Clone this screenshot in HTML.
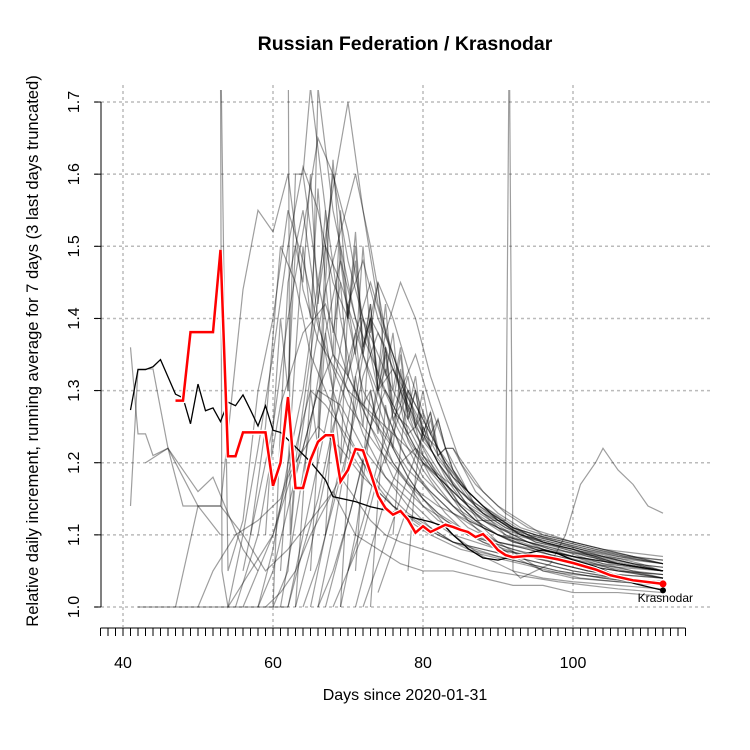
<!DOCTYPE html>
<html><head><meta charset="utf-8"><style>
body{margin:0;background:#fff}
svg{display:block;font-family:"Liberation Sans",sans-serif}
</style></head><body>
<svg id="chart" width="750" height="750" xmlns="http://www.w3.org/2000/svg">
<text x="405" y="50" text-anchor="middle" font-size="19.5" font-weight="bold">Russian Federation / Krasnodar</text>
<text x="405" y="700" text-anchor="middle" font-size="16">Days since 2020-01-31</text>
<text transform="translate(38,351) rotate(-90)" text-anchor="middle" font-size="16.6">Relative daily increment, running average for 7 days (3 last days truncated)</text>
<g id="grid"></g>
<g id="axes"></g>
<defs><clipPath id="pc"><rect x="101" y="90" width="620" height="520"/></clipPath></defs>
<g id="gray" clip-path="url(#pc)"></g>
<g id="main"></g>
</svg>
<script>
const xTicks=[40,60,80,100];
const yTicks=[1.0,1.1,1.2,1.3,1.4,1.5,1.6,1.7];
const redDays=[47,48,49,50,51,52,53,54,55,56,57,58,59,60,61,62,63,64,65,66,67,68,69,70,71,72,73,74,75,76,77,78,79,80,81,82,83,84,85,86,87,88,89,90,91,92,94,96,98,100,103,105,108,112];
const redVals=[1.286,1.286,1.381,1.381,1.381,1.381,1.495,1.209,1.209,1.242,1.242,1.242,1.242,1.168,1.2,1.291,1.165,1.165,1.204,1.229,1.238,1.238,1.174,1.19,1.219,1.217,1.186,1.154,1.137,1.128,1.133,1.121,1.103,1.112,1.104,1.109,1.114,1.111,1.107,1.104,1.097,1.101,1.091,1.079,1.072,1.069,1.071,1.070,1.066,1.061,1.052,1.044,1.037,1.032];
const blackDays=[41,42,43,44,45,46,47,48,49,50,51,52,53,54,55,56,57,58,59,60,61,63,65,67,68,71,73,76,79,81,83,84,85,86,88,90,92,95,96,98,100,103,105,108,112];
const blackVals=[1.273,1.329,1.329,1.333,1.343,1.319,1.295,1.29,1.254,1.309,1.272,1.276,1.257,1.284,1.279,1.294,1.273,1.251,1.279,1.245,1.242,1.222,1.201,1.176,1.153,1.146,1.139,1.132,1.123,1.118,1.111,1.1,1.091,1.081,1.068,1.065,1.07,1.077,1.079,1.074,1.065,1.056,1.047,1.033,1.023];
const grayDays=[
[41,42,43,44,46,48,50,53],
[41,42,44,46,48,50,52,54,56,58],
[42,45,48,52,55,58,60,62],
[47,50,53,56,58,60,62,64,66,70,75,80,85,90,95,100,105,112],
[53,54,56,58,60,62,64,66,68,70,74,78,82,86,90,95,100,106,112],
[54,56,58,60,62,64,66,68,70,72,75,78,82,86,90,95,100,106,112],
[56,58,60,62,64,66,68,70,72,74,77,80,84,88,92,96,100,106,112],
[58,60,62,64,66,68,70,72,74,76,78,80,84,88,92,96,100,106,112],
[60,62,63,65,67,69,71,73,75,77,79,82,85,88,92,96,100,106,112],
[61,63,65,67,69,71,73,75,77,79,81,84,87,90,94,98,102,107,112],
[62,64,66,68,70,72,74,76,78,80,82,85,88,91,95,99,103,108,112],
[63,65,67,69,71,73,75,77,79,81,83,86,89,92,96,100,104,108,112],
[64,66,68,70,72,74,76,78,80,82,84,87,90,93,97,101,105,109,112],
[65,67,69,71,73,75,77,79,81,83,85,88,91,94,98,102,106,112],
[66,68,70,72,74,76,78,80,82,84,86,89,92,95,99,103,107,112],
[67,69,71,73,75,77,79,81,83,85,87,90,93,96,100,104,108,112],
[68,70,72,74,76,78,80,82,84,86,88,91,94,97,100,104,108,112],
[70,72,74,76,78,80,82,84,86,88,90,93,96,99,102,106,112],
[72,74,76,78,80,82,84,86,88,90,92,95,98,101,104,108,112],
[74,76,78,80,82,84,86,88,90,92,94,97,100,104,108,112],
[57,59,61,63,65,67,70,73,76,80,84,88,92,96,100,106,112],
[55,58,61,64,67,70,73,76,79,82,86,90,94,98,102,107,112],
[62,63,64,66,68,70,72,75,78,81,84,88,92,96,100,106,112],
[66,67,68,70,72,74,77,80,83,86,89,92,96,100,106,112],
[60,61,62,64,66,68,70,73,76,79,82,86,90,94,98,104,112],
[69,71,73,75,77,79,81,83,85,87,90,93,96,100,104,108,112],
[58,60,63,66,69,72,75,78,81,84,87,90,94,98,102,107,112],
[64,65,67,69,71,73,76,79,82,85,88,91,94,98,102,106,112],
[53,53.2,54,57,60,63,66,69,72,75,78,81,85,89,93,97,101,106,112],
[71,73,75,77,79,81,83,85,87,89,91,91.5,92,93,95,97,99,101,103,104,106,108,110,112],
[59,61,63,65,67,69,71,73,75,77,80,83,86,89,92,95,98,102,106,112],
[65,66,68,70,72,74,76,78,80,83,86,89,92,95,98,102,106,112],
[75,77,79,81,83,85,87,89,91,93,96,99,102,106,112],
[43,46,50,53,56,59,62,65,68,71,74,77,80,84,88,92,96,100,106,112],
[50,52,55,58,61,63,65,67,69,72,75,78,81,84,87,90,94,98,104,112],
[62,62.3,63,65,67,69,72,75,78,81,84,87,90,94,98,103,108,112],
[59,60,61,62,63,64,65,66,67,68,69,70,71,72,73,74,76,78,80,83,86,90,95,100,106,112],
[61,62,63,64,65,66,67,68,69,70,71,72,73,74,75,76,78,80,83,86,90,95,100,106,112],
[63,64,65,66,67,68,69,70,71,72,73,74,75,76,77,78,80,82,85,88,92,96,100,106,112],
[65,66,67,68,69,70,71,72,73,74,75,76,77,78,79,80,82,84,87,90,94,98,104,112],
[67,68,69,70,71,72,73,74,75,76,77,78,79,80,81,82,84,86,89,92,96,100,106,112],
[69,70,71,72,73,74,75,76,77,78,79,80,81,82,83,85,87,90,93,97,101,106,112],
[71,72,73,74,75,76,77,78,79,80,81,82,83,84,86,88,91,94,98,102,107,112],
[73,74,75,76,77,78,79,80,81,82,83,84,85,87,89,92,95,99,103,108,112],
[76,77,78,79,80,81,82,83,84,86,88,90,93,96,100,104,108,112],
[78,79,80,81,82,83,84,85,87,89,91,94,97,100,104,108,112],
[56,58,60,62,64,66,68,70,72,74,76,78,80,84,88,92,96,100,106,112],
[62,64,66,68,70,72,74,76,78,80,82,84,86,88,92,96,100,106,112],
[66,68,70,72,74,76,78,80,82,84,86,88,90,93,96,100,106,112]
];
const grayVals=[
[1.36,1.24,1.24,1.21,1.22,1.14,1.14,1.10],
[1.14,1.33,1.33,1.22,1.19,1.16,1.18,1.13,1.08,1.05],
[1.0,1.0,1.0,1.0,1.0,1.0,1.0,1.0],
[1.0,1.14,1.14,1.44,1.55,1.52,1.60,1.44,1.37,1.30,1.25,1.20,1.16,1.12,1.09,1.08,1.06,1.05],
[1.80,1.05,1.12,1.30,1.40,1.55,1.48,1.39,1.33,1.28,1.22,1.17,1.14,1.12,1.10,1.08,1.07,1.06,1.05],
[1.0,1.10,1.22,1.35,1.50,1.61,1.55,1.45,1.40,1.30,1.24,1.19,1.15,1.11,1.09,1.08,1.06,1.05,1.04],
[1.05,1.15,1.25,1.40,1.52,1.65,1.60,1.48,1.40,1.32,1.25,1.20,1.15,1.12,1.10,1.08,1.07,1.05,1.045],
[1.0,1.08,1.20,1.30,1.45,1.58,1.70,1.55,1.42,1.35,1.28,1.23,1.18,1.14,1.11,1.09,1.08,1.06,1.05],
[1.0,1.05,1.18,1.32,1.44,1.52,1.60,1.50,1.38,1.30,1.24,1.19,1.14,1.11,1.09,1.08,1.07,1.06,1.05],
[1.0,1.12,1.25,1.38,1.48,1.40,1.35,1.30,1.26,1.22,1.18,1.14,1.12,1.10,1.09,1.08,1.07,1.06,1.05],
[1.0,1.10,1.20,1.30,1.42,1.48,1.40,1.35,1.29,1.24,1.20,1.16,1.13,1.11,1.09,1.08,1.07,1.06,1.055],
[1.0,1.08,1.18,1.30,1.38,1.45,1.38,1.32,1.28,1.24,1.20,1.16,1.13,1.11,1.09,1.08,1.07,1.06,1.05],
[1.0,1.06,1.14,1.22,1.32,1.38,1.33,1.29,1.25,1.21,1.18,1.15,1.12,1.10,1.09,1.08,1.07,1.06,1.05],
[1.0,1.10,1.20,1.32,1.40,1.36,1.30,1.25,1.22,1.18,1.15,1.13,1.11,1.10,1.09,1.08,1.07,1.06],
[1.0,1.05,1.12,1.20,1.30,1.33,1.28,1.24,1.20,1.17,1.15,1.13,1.11,1.10,1.09,1.08,1.07,1.065],
[1.0,1.08,1.16,1.25,1.30,1.26,1.22,1.19,1.17,1.15,1.13,1.11,1.10,1.09,1.08,1.07,1.065,1.06],
[1.0,1.05,1.12,1.20,1.27,1.25,1.21,1.18,1.16,1.14,1.12,1.10,1.09,1.08,1.075,1.07,1.06,1.055],
[1.05,1.10,1.18,1.24,1.30,1.26,1.22,1.18,1.15,1.13,1.12,1.10,1.09,1.08,1.07,1.06,1.05],
[1.0,1.06,1.12,1.18,1.24,1.22,1.19,1.16,1.14,1.12,1.11,1.10,1.09,1.08,1.07,1.06,1.05],
[1.02,1.08,1.14,1.20,1.18,1.16,1.14,1.12,1.11,1.10,1.09,1.08,1.07,1.06,1.05,1.04],
[1.10,1.25,1.50,1.45,1.35,1.30,1.22,1.17,1.14,1.11,1.09,1.08,1.07,1.06,1.05,1.04,1.035],
[1.0,1.10,1.28,1.38,1.42,1.32,1.25,1.18,1.15,1.12,1.10,1.09,1.08,1.07,1.06,1.05,1.04],
[1.30,1.60,1.60,1.45,1.35,1.30,1.24,1.18,1.14,1.11,1.09,1.08,1.07,1.06,1.05,1.04,1.03],
[1.25,1.50,1.60,1.52,1.40,1.30,1.22,1.17,1.13,1.10,1.09,1.08,1.07,1.06,1.05,1.04],
[1.0,1.25,1.45,1.55,1.40,1.30,1.24,1.18,1.14,1.12,1.10,1.08,1.07,1.06,1.05,1.04,1.03],
[1.0,1.10,1.25,1.38,1.45,1.40,1.32,1.26,1.20,1.16,1.13,1.11,1.10,1.09,1.08,1.075,1.07],
[1.0,1.05,1.18,1.30,1.28,1.22,1.18,1.15,1.12,1.10,1.09,1.08,1.07,1.06,1.05,1.04,1.035],
[1.60,1.72,1.55,1.40,1.30,1.25,1.20,1.16,1.13,1.11,1.09,1.08,1.07,1.06,1.05,1.045,1.04],
[1.75,1.05,1.00,1.05,1.10,1.20,1.25,1.22,1.18,1.15,1.12,1.10,1.08,1.07,1.06,1.05,1.04,1.035,1.03],
[1.0,1.08,1.15,1.20,1.22,1.20,1.17,1.14,1.12,1.12,1.12,1.80,1.05,1.04,1.05,1.06,1.10,1.17,1.20,1.22,1.19,1.17,1.14,1.13],
[1.0,1.02,1.05,1.10,1.14,1.18,1.15,1.12,1.10,1.09,1.08,1.07,1.06,1.05,1.045,1.04,1.035,1.03,1.025,1.02],
[1.30,1.72,1.55,1.45,1.35,1.28,1.22,1.18,1.15,1.12,1.10,1.09,1.08,1.07,1.06,1.05,1.045,1.04],
[1.20,1.30,1.35,1.28,1.22,1.18,1.14,1.12,1.10,1.09,1.08,1.07,1.06,1.055,1.05],
[1.20,1.22,1.14,1.14,1.10,1.05,1.08,1.12,1.16,1.10,1.08,1.06,1.05,1.05,1.04,1.03,1.03,1.02,1.02,1.015],
[1.0,1.05,1.10,1.12,1.15,1.22,1.30,1.28,1.25,1.20,1.16,1.13,1.11,1.09,1.08,1.07,1.06,1.05,1.04,1.03],
[1.85,1.10,1.20,1.35,1.50,1.45,1.35,1.27,1.20,1.16,1.13,1.11,1.09,1.08,1.07,1.06,1.05,1.045],
[1.10,1.25,1.40,1.30,1.50,1.45,1.60,1.42,1.55,1.38,1.45,1.32,1.38,1.28,1.30,1.25,1.20,1.17,1.14,1.12,1.10,1.08,1.07,1.06,1.05,1.045],
[1.05,1.20,1.35,1.50,1.40,1.58,1.45,1.62,1.48,1.40,1.52,1.36,1.40,1.30,1.33,1.26,1.22,1.18,1.15,1.12,1.10,1.08,1.07,1.06,1.05],
[1.0,1.15,1.30,1.22,1.45,1.35,1.55,1.40,1.50,1.36,1.42,1.30,1.35,1.26,1.28,1.23,1.19,1.16,1.13,1.11,1.09,1.08,1.07,1.06,1.05],
[1.05,1.22,1.38,1.30,1.50,1.40,1.48,1.35,1.42,1.30,1.36,1.27,1.30,1.24,1.25,1.21,1.18,1.15,1.12,1.10,1.09,1.08,1.06,1.05],
[1.10,1.30,1.20,1.42,1.35,1.50,1.38,1.45,1.32,1.38,1.28,1.32,1.25,1.27,1.22,1.20,1.17,1.14,1.12,1.10,1.09,1.08,1.06,1.05],
[1.0,1.18,1.32,1.25,1.40,1.32,1.42,1.30,1.36,1.27,1.32,1.24,1.27,1.22,1.20,1.17,1.14,1.12,1.10,1.09,1.08,1.07,1.06],
[1.05,1.20,1.30,1.24,1.36,1.28,1.35,1.26,1.30,1.23,1.26,1.21,1.22,1.19,1.16,1.14,1.12,1.10,1.09,1.08,1.07,1.06],
[1.0,1.15,1.28,1.22,1.33,1.26,1.30,1.24,1.27,1.21,1.22,1.19,1.17,1.15,1.13,1.11,1.10,1.09,1.08,1.07,1.06],
[1.10,1.22,1.30,1.25,1.30,1.24,1.26,1.22,1.22,1.19,1.16,1.14,1.12,1.10,1.09,1.08,1.07,1.065],
[1.05,1.18,1.25,1.22,1.26,1.22,1.22,1.20,1.17,1.15,1.13,1.11,1.10,1.09,1.08,1.07,1.06],
[1.0,1.05,1.10,1.18,1.22,1.30,1.35,1.32,1.28,1.25,1.22,1.18,1.15,1.10,1.07,1.05,1.04,1.035,1.03,1.025],
[1.0,1.08,1.15,1.25,1.32,1.40,1.35,1.30,1.26,1.22,1.18,1.15,1.12,1.10,1.07,1.05,1.04,1.035,1.03],
[1.0,1.10,1.22,1.35,1.45,1.40,1.33,1.27,1.22,1.17,1.14,1.11,1.09,1.07,1.05,1.045,1.04,1.035]
];
const NS="http://www.w3.org/2000/svg";
const X=d=>123+(d-40)*7.5;
const Y=v=>607-(v-1)*721.4;
const svg=document.getElementById('chart');
function mk(tag,attrs,parent){const e=document.createElementNS(NS,tag);for(const k in attrs)e.setAttribute(k,attrs[k]);parent.appendChild(e);return e;}
const grid=document.getElementById('grid'),axes=document.getElementById('axes');
xTicks.forEach(t=>{
 const l=mk('line',{x1:X(t),x2:X(t),y1:85,y2:627,stroke:'#bbb','stroke-dasharray':'3,3','stroke-width':1.5},grid);
 
 
 const tx=mk('text',{x:X(t),y:668,'text-anchor':'middle','font-size':16},axes);
 tx.textContent=t;
 
 
});
yTicks.forEach(t=>{
 const l=mk('line',{x1:95,x2:712,y1:Y(t),y2:Y(t),stroke:'#bbb','stroke-dasharray':'3,3','stroke-width':1.5},grid);
 
 
 const tk=mk('line',{x1:94,x2:101,y1:Y(t),y2:Y(t),stroke:'#000'},axes);
 
 
 const tx=mk('text',{transform:`translate(79,${Y(t)}) rotate(-90)`,'text-anchor':'middle','font-size':16},axes);
 tx.textContent=t.toFixed(1);
 
 
});
const ya=mk('line',{x1:101,x2:101,y1:Y(1.7),y2:Y(1.0),stroke:'#000'},axes);


const xa=mk('line',{x1:X(37),x2:X(115),y1:628,y2:628,stroke:'#000'},axes);


for(let d=37;d<=115;d++){
 const tk=mk('line',{x1:X(d),x2:X(d),y1:628,y2:636,stroke:'#000'},axes);
 
 
}
const gray=document.getElementById('gray');
grayDays.forEach((ds,i)=>{
 const pts=ds.map((d,j)=>X(d)+','+Y(grayVals[i][j])).join(' ');
 const p=mk('polyline',{points:pts,fill:'none',stroke:'rgba(0,0,0,0.38)','stroke-width':1.2},gray);
 
 
});
const main=document.getElementById('main');
const bl=mk('polyline',{points:blackDays.map((d,j)=>X(d)+','+Y(blackVals[j])).join(' '),fill:'none',stroke:'#000','stroke-width':1.3},main);


const rw=mk('polyline',{points:redDays.map((d,j)=>X(d)+','+Y(redVals[j])).join(' '),fill:'none',stroke:'#fff','stroke-width':5},main);


const rl=mk('polyline',{points:redDays.map((d,j)=>X(d)+','+Y(redVals[j])).join(' '),fill:'none',stroke:'#f00','stroke-width':2.5},main);


const last=redDays.length-1;
const dot=mk('circle',{cx:X(redDays[last]),cy:Y(redVals[last]),r:3.5,fill:'#f00'},main);


const bdot=mk('circle',{cx:X(blackDays[blackDays.length-1]),cy:Y(blackVals[blackVals.length-1]),r:3,fill:'#000'},main);


const lab=mk('text',{x:X(redDays[last])+30,y:Y(redVals[last])+18,'text-anchor':'end','font-size':12},main);
lab.textContent='Krasnodar';


</script>
</body></html>
